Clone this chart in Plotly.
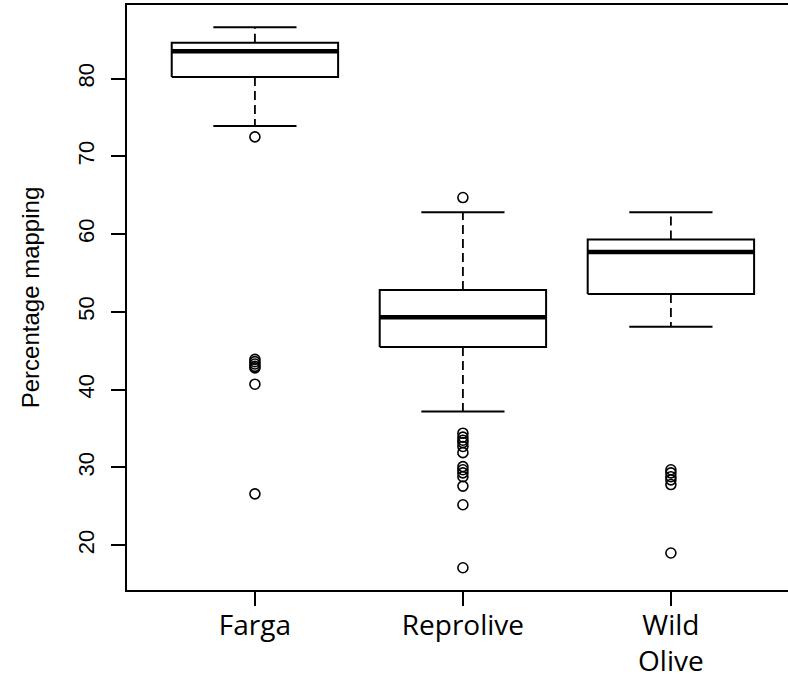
import plotly.graph_objects as go

# ---- data ----
categories = ["Farga", "Reprolive", "Wild<br>Olive"]
q1 = [80.2, 45.5, 52.3]
medians = [83.5, 49.3, 57.7]
q3 = [84.6, 52.8, 59.3]
lower_whisker = [73.9, 37.2, 48.1]
upper_whisker = [86.6, 62.8, 62.8]
outliers_farga = [72.5, 43.9, 43.6, 43.3, 43.0, 42.8, 40.7, 26.6]
outliers_reprolive = [64.7, 34.4, 33.9, 33.5, 33.2, 32.7, 31.9, 30.1, 29.7, 29.3, 28.8, 27.6, 25.2, 17.1]
outliers_wild = [29.7, 29.3, 28.8, 28.4, 27.8, 19.0]
outliers = [outliers_farga, outliers_reprolive, outliers_wild]
y_ticks = [20, 30, 40, 50, 60, 70, 80]

positions = [1, 2, 3]
half_box = 0.4
half_cap = 0.2

fig = go.Figure()
for i, c in enumerate(positions):
    # box outline
    fig.add_trace(go.Scatter(
        x=[c - half_box, c + half_box, c + half_box, c - half_box, c - half_box],
        y=[q1[i], q1[i], q3[i], q3[i], q1[i]],
        mode="lines", line=dict(color="black", width=2), hoverinfo="skip"))
    # median
    fig.add_trace(go.Scatter(
        x=[c - half_box, c + half_box], y=[medians[i], medians[i]],
        mode="lines", line=dict(color="black", width=4.5), hoverinfo="skip"))
    # whiskers (dashed)
    fig.add_trace(go.Scatter(
        x=[c, c, None, c, c],
        y=[q3[i], upper_whisker[i], None, q1[i], lower_whisker[i]],
        mode="lines", line=dict(color="black", width=1.8, dash="9px,5px"), hoverinfo="skip"))
    # caps
    fig.add_trace(go.Scatter(
        x=[c - half_cap, c + half_cap, None, c - half_cap, c + half_cap],
        y=[upper_whisker[i], upper_whisker[i], None, lower_whisker[i], lower_whisker[i]],
        mode="lines", line=dict(color="black", width=2), hoverinfo="skip"))
    # outliers
    fig.add_trace(go.Scatter(
        x=[c] * len(outliers[i]), y=outliers[i], mode="markers",
        marker=dict(symbol="circle-open", size=10, color="black", line=dict(width=1.6)),
        hoverinfo="y"))

fig.update_layout(
    width=788, height=690,
    margin=dict(l=127, r=0, t=5, b=100),
    paper_bgcolor="white", plot_bgcolor="white",
    showlegend=False,
)
fig.update_xaxes(
    range=[0.385, 3.563], tickmode="array", tickvals=positions, ticktext=categories,
    showline=True, linecolor="black", linewidth=2, mirror=True,
    ticks="outside", ticklen=14, tickwidth=2, tickcolor="black",
    showgrid=False, zeroline=False,
    tickfont=dict(family="Open Sans", size=28, color="black"),
    ticklabelstandoff=-5,
)
fig.update_yaxes(
    range=[14.24, 89.46], tickmode="array", tickvals=y_ticks,
    showline=True, linecolor="black", linewidth=2, mirror=False,
    ticks="outside", ticklen=14, tickwidth=2, tickcolor="black",
    showgrid=False, zeroline=False, tickangle=-90,
    tickfont=dict(family="Liberation Sans", size=22, color="black"),
    ticklabelstandoff=8,
    title=dict(text="Percentage mapping", font=dict(family="Liberation Sans", size=24, color="black"),
               standoff=28),
)

fig.write_html("out.html")
